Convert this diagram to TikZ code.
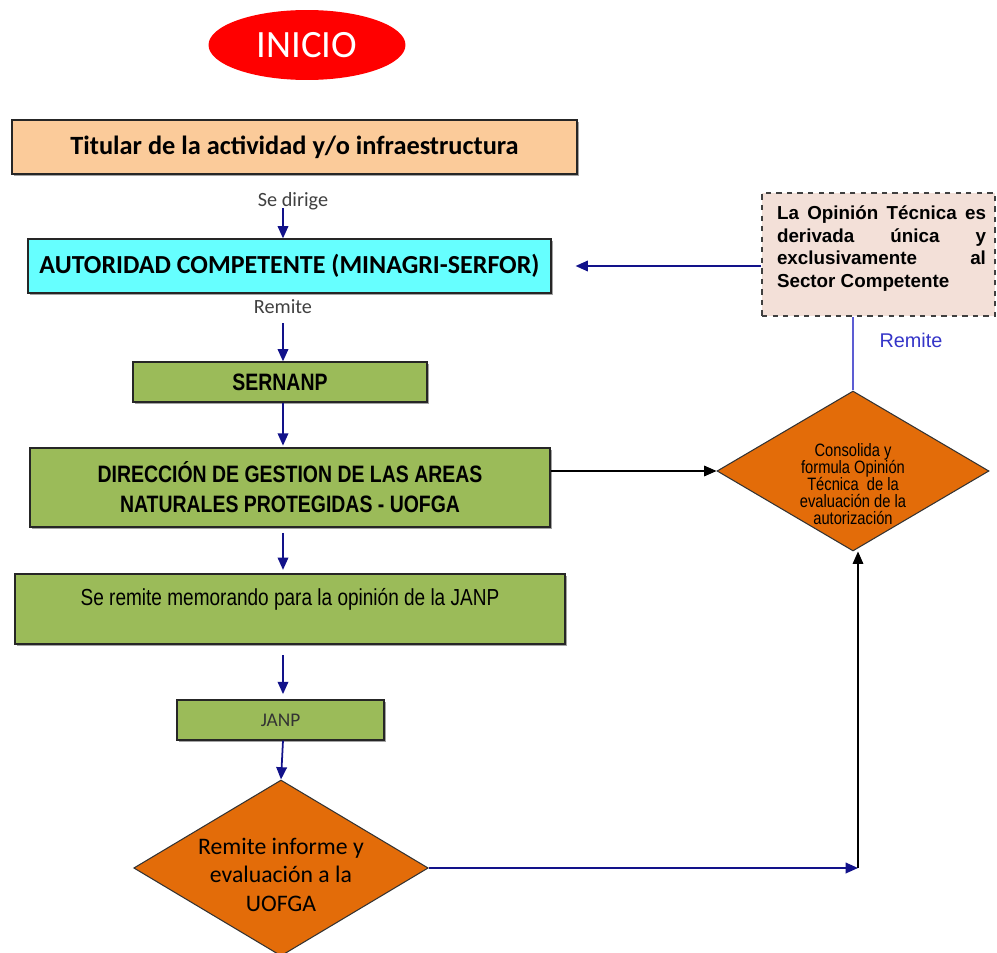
\documentclass[tikz,border=0pt]{standalone}
\usepackage{fontspec}
\setmainfont{Liberation Sans}
\newfontfamily\calfont{Carlito}
\newfontfamily\arnfont[FakeStretch=0.82]{Liberation Sans}
\usetikzlibrary{positioning,arrows.meta,shapes.geometric,shadows}
\definecolor{inired}{HTML}{FF0000}
\definecolor{titpeach}{HTML}{FBCB9A}
\definecolor{autcyan}{HTML}{66FFFF}
\definecolor{boxgreen}{HTML}{9BBB59}
\definecolor{decorange}{HTML}{E36C09}
\definecolor{notepink}{HTML}{F3E0D8}
\definecolor{arrnavy}{HTML}{12128A}
\definecolor{remblue}{HTML}{3535C8}
\definecolor{lblgray}{HTML}{404040}
\tikzset{
  box/.style   = {draw=black!85, line width=0.7pt, inner sep=2pt,
                  drop shadow={shadow xshift=1.2pt, shadow yshift=-1.2pt,
                  fill=black!60, opacity=.6}},
  gbox/.style  = {box, fill=boxgreen},
  dec/.style   = {diamond, draw=black!80, line width=0.6pt, fill=decorange,
                  inner sep=-2pt, aspect=1.7, align=center},
  nbox/.style  = {draw=black!75, dashed, line width=0.8pt, fill=notepink,
                  inner sep=2pt},
  arr/.style   = {draw=arrnavy, line width=1pt, -{Triangle[length=7pt,width=6pt]}},
  karr/.style  = {draw=black, line width=0.7pt, -{Triangle[length=7pt,width=6pt]}},
  lbl/.style   = {font=\calfont\fontsize{11.5}{13}\selectfont, text=lblgray,
                  inner sep=1pt},
}
\begin{document}
\begin{tikzpicture}[x=0.02cm, y=-0.02cm]
  \useasboundingbox (0,0) rectangle (997,953);
  % main column
  \node[ellipse, fill=inired, minimum width=3.94cm, minimum height=1.4cm,
        inner sep=0pt, text=white, font=\calfont\fontsize{22}{26}\selectfont]
        (ini) at (307,45) {INICIO};
  \node[box, fill=titpeach, minimum width=11.3cm, minimum height=1.08cm,
        font=\calfont\bfseries\fontsize{15}{18}\selectfont]
        (tit) at (294.5,147) {Titular de la actividad y/o infraestructura};
  \node[box, fill=autcyan, minimum width=10.46cm, minimum height=1.08cm,
        font=\calfont\bfseries\fontsize{14.8}{17}\selectfont]
        (aut) at (289.5,266) {AUTORIDAD COMPETENTE (MINAGRI-SERFOR)};
  \node[gbox, minimum width=5.88cm, minimum height=0.8cm,
        font=\arnfont\bfseries\fontsize{13.5}{16}\selectfont]
        (ser) at (280,382) {SERNANP};
  \node[gbox, minimum width=10.4cm, minimum height=1.58cm, align=center,
        font=\arnfont\bfseries\fontsize{13.5}{17}\selectfont]
        (dir) at (290,487.5) {DIRECCIÓN DE GESTION DE LAS AREAS\\NATURALES PROTEGIDAS - UOFGA};
  \node[gbox, minimum width=11cm, minimum height=1.4cm, text height=9.5pt,
        text depth=14pt, font=\arnfont\fontsize{13.2}{16}\selectfont]
        (mem) at (290,609) {Se remite memorando para la opinión de la JANP};
  \node[gbox, minimum width=4.14cm, minimum height=0.8cm, text=black!80,
        font=\calfont\fontsize{11}{13}\selectfont]
        (janp) at (280.5,720) {JANP};
  \node[dec, minimum width=5.88cm, minimum height=3.52cm,
        font=\calfont\fontsize{13.5}{16.2}\selectfont]
        (rem) at (281,868) {\mbox{}\\[0.8pt]Remite informe y\\evaluación a la\\UOFGA};
  % right column
  \node[dec, minimum width=5.44cm, minimum height=3.2cm,
        font=\arnfont\fontsize{10.2}{9.7}\selectfont]
        (con) at (853,471) {\mbox{}\\[13pt]Consolida y\\formula Opinión\\Técnica \ de la\\evaluación de la\\autorización};
  \node[nbox, minimum width=4.66cm, minimum height=2.46cm, text width=4.3cm,
        align=justify, font=\bfseries\fontsize{10.7}{12.9}\selectfont]
        (op) at (878.5,254.5) {\leftskip=0.12cm La Opinión Técnica es\linebreak
        derivada única y\linebreak exclusivamente al\linebreak
        Sector Competente\par\vspace{-3.8pt}\mbox{}};
  % labels
  \node[lbl] (sed) at (293,201) {Se dirige};
  \node[lbl] (rm1) at (283,307) {Remite};
  % connectors
  \coordinate (ax) at (283,0);
  \coordinate (cr) at (858,868);
  \draw[arr, shorten <=-2pt] (sed.south -| ax) -- (aut.north -| ax);
  \draw[arr, shorten <=4pt] (rm1.south -| ax) -- (ser.north -| ax);
  \draw[arr, shorten >=1pt] (ser.south -| ax) -- (dir.north -| ax);
  \draw[arr, shorten <=3pt, shorten >=2pt] (dir.south -| ax) -- (mem.north -| ax);
  \draw[arr, shorten <=6pt, shorten >=3pt] (mem.south -| ax) -- (janp.north -| ax);
  \draw[arr] (janp.south -| ax) -- (rem.north);
  \draw[arr] (rem.east) -- (cr);
  \draw[karr] (cr) -- (cr |- con.south);
  \draw[karr] (dir.east |- con.west) -- (con.west);
  \draw[remblue!80, line width=0.8pt] (con.north) -- (con.north |- op.south)
    node[pos=.68, right=0.4cm, text=remblue, font=\fontsize{11.3}{13}\selectfont] {Remite};
  \draw[arr, shorten >=0.48cm] (op.west |- aut.east) -- (aut.east);
\end{tikzpicture}
\end{document}
